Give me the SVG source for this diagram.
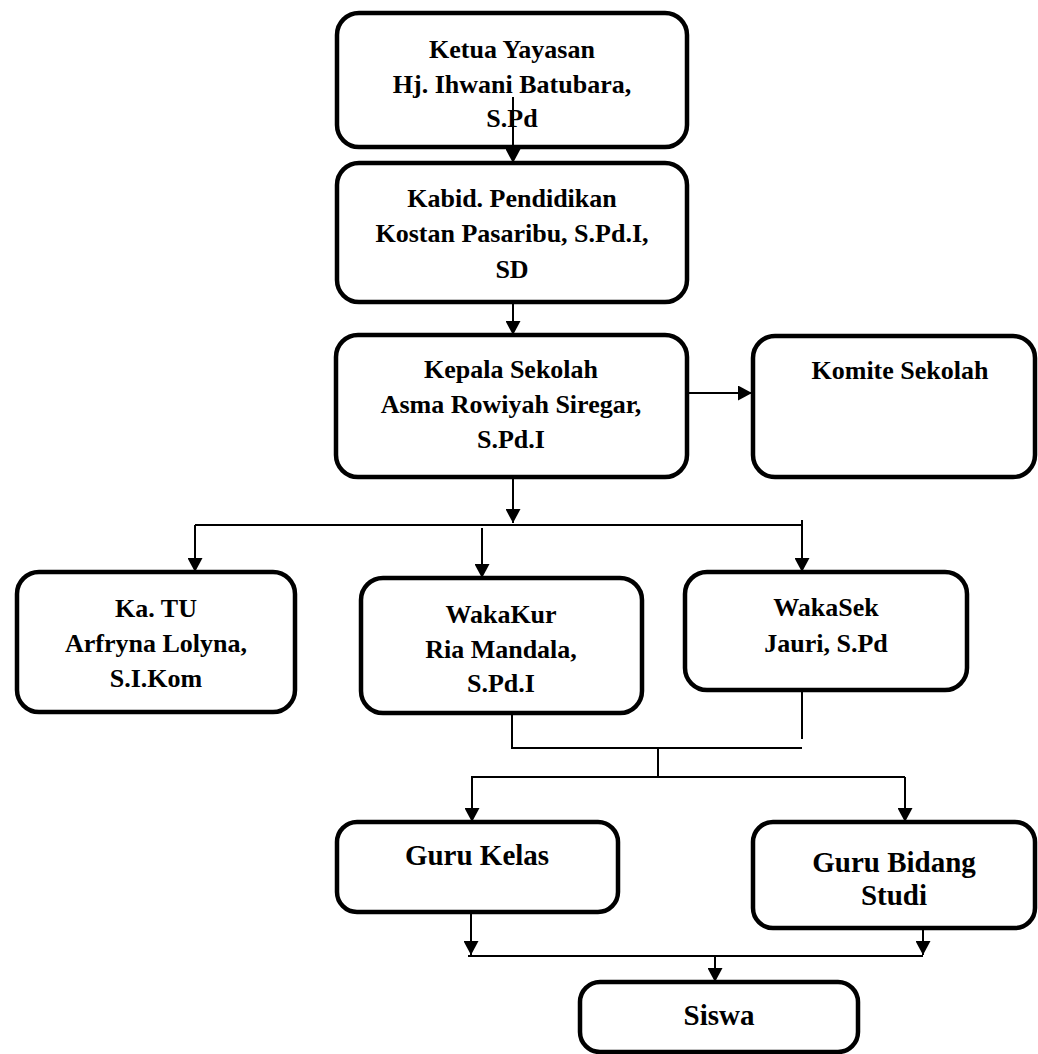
<svg xmlns="http://www.w3.org/2000/svg" width="1038" height="1054" viewBox="0 0 1038 1054">
<style>
.box{fill:#fff;stroke:#000;stroke-width:4.5}
.t{font-family:"Liberation Serif","Times New Roman",serif;font-weight:bold;font-size:26px;fill:#000;text-anchor:middle}
.tl{font-size:29px}
.c{fill:none;stroke:#000;stroke-width:2}
.a{marker-end:url(#arr)}
</style>
<defs>
<marker id="arr" markerUnits="userSpaceOnUse" markerWidth="15" markerHeight="15" refX="14" refY="7.5" orient="auto">
<path d="M0,0 L14,7.5 L0,15 z" fill="#000"/>
</marker>
</defs>
<rect width="1038" height="1054" fill="#fff"/>
<g id="n-ketua">
<rect class="box" x="337" y="13" width="350" height="134" rx="22"/>
<text class="t" x="512" y="58">Ketua Yayasan</text>
<text class="t" x="512" y="93">Hj. Ihwani Batubara,</text>
<text class="t" x="512" y="127">S.Pd</text>
</g>
<g id="n-kabid">
<rect class="box" x="337" y="163" width="350" height="139" rx="22"/>
<text class="t" x="512" y="207">Kabid. Pendidikan</text>
<text class="t" x="512" y="242">Kostan Pasaribu, S.Pd.I,</text>
<text class="t" x="512" y="278">SD</text>
</g>
<g id="n-kepsek">
<rect class="box" x="336" y="335" width="351" height="142" rx="22"/>
<text class="t" x="511" y="378">Kepala Sekolah</text>
<text class="t" x="511" y="413">Asma Rowiyah Siregar,</text>
<text class="t" x="511" y="448">S.Pd.I</text>
</g>
<g id="n-komite">
<rect class="box" x="753" y="336" width="282" height="141" rx="22"/>
<text class="t" x="900" y="379">Komite Sekolah</text>
</g>
<g id="n-katu">
<rect class="box" x="17" y="572" width="278" height="140" rx="22"/>
<text class="t" x="156" y="617">Ka. TU</text>
<text class="t" x="156" y="652">Arfryna Lolyna,</text>
<text class="t" x="156" y="687">S.I.Kom</text>
</g>
<g id="n-wakakur">
<rect class="box" x="361" y="578" width="281" height="135" rx="22"/>
<text class="t" x="501" y="623">WakaKur</text>
<text class="t" x="501" y="658">Ria Mandala,</text>
<text class="t" x="501" y="692">S.Pd.I</text>
</g>
<g id="n-wakasek">
<rect class="box" x="685" y="572" width="282" height="118" rx="22"/>
<text class="t" x="826" y="616">WakaSek</text>
<text class="t" x="826" y="652">Jauri, S.Pd</text>
</g>
<g id="n-gurukelas">
<rect class="box" x="337" y="822" width="281" height="90" rx="20"/>
<text class="t tl" x="477" y="865">Guru Kelas</text>
</g>
<g id="n-gurubidang">
<rect class="box" x="753" y="822" width="282" height="106" rx="20"/>
<text class="t tl" x="894" y="872">Guru Bidang</text>
<text class="t tl" x="894" y="905">Studi</text>
</g>
<g id="n-siswa">
<rect class="box" x="580" y="982" width="278" height="70" rx="20"/>
<text class="t tl" x="719" y="1025">Siswa</text>
</g>
<g id="connectors">
<line class="c a" x1="513" y1="97" x2="513" y2="163"/>
<line class="c a" x1="513" y1="302" x2="513" y2="335"/>
<line class="c a" x1="687" y1="393" x2="752" y2="393"/>
<line class="c a" x1="513" y1="477" x2="513" y2="523"/>
<line class="c" x1="195" y1="525" x2="802" y2="525"/>
<line class="c a" x1="195" y1="525" x2="195" y2="572"/>
<line class="c a" x1="482" y1="528" x2="482" y2="578"/>
<line class="c a" x1="802" y1="520" x2="802" y2="572"/>
<polyline class="c" points="512,713 512,748 802,748"/>
<line class="c" x1="802" y1="690" x2="802" y2="739"/>
<line class="c" x1="658" y1="748" x2="658" y2="777"/>
<line class="c" x1="471" y1="777" x2="905" y2="777"/>
<line class="c a" x1="472" y1="777" x2="472" y2="822"/>
<line class="c a" x1="905" y1="777" x2="905" y2="822"/>
<line class="c a" x1="471" y1="912" x2="471" y2="955"/>
<line class="c a" x1="923" y1="928" x2="923" y2="955"/>
<line class="c" x1="468" y1="956" x2="923" y2="956"/>
<line class="c a" x1="715" y1="956" x2="715" y2="982"/>
</g>
</svg>
